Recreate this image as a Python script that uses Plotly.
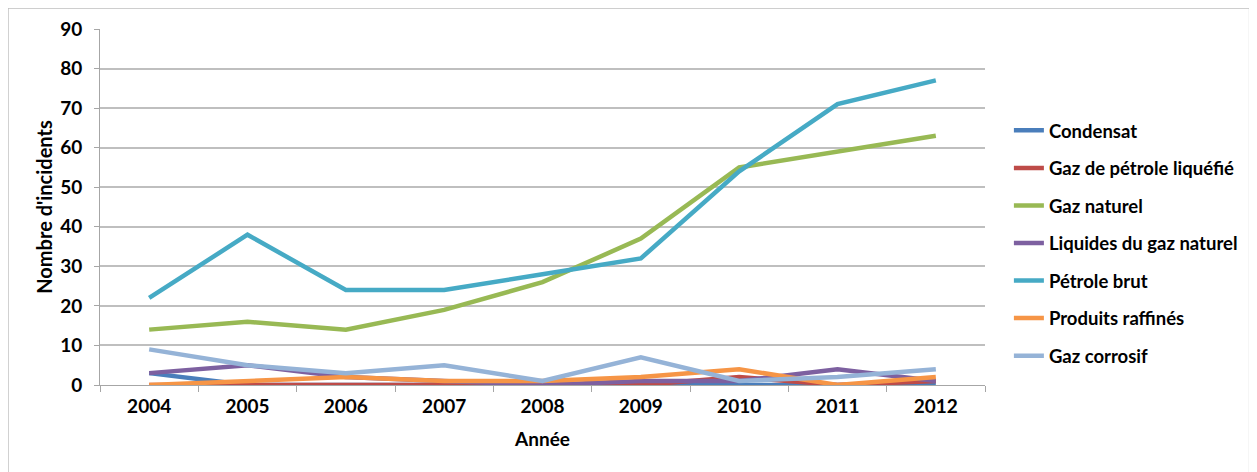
import plotly.graph_objects as go

# Data
years = ['2004', '2005', '2006', '2007', '2008', '2009', '2010', '2011', '2012']

condensat = [3, 0, 0, 0, 0, 0, 0, 0, 0]
gaz_petrole_liquefie = [0, 0, 0, 0, 0, 0, 2, 0, 1]
gaz_naturel = [14, 16, 14, 19, 26, 37, 55, 59, 63]
liquides_gaz_naturel = [3, 5, 2, 1, 0, 1, 1, 4, 1]
petrole_brut = [22, 38, 24, 24, 28, 32, 54, 71, 77]
produits_raffines = [0, 1, 2, 1, 1, 2, 4, 0, 2]
gaz_corrosif = [9, 5, 3, 5, 1, 7, 1, 2, 4]

series = [
    ('Condensat', condensat, '#4A7EBB'),
    ('Gaz de pétrole liquéfié', gaz_petrole_liquefie, '#BE4B48'),
    ('Gaz naturel', gaz_naturel, '#98B954'),
    ('Liquides du gaz naturel', liquides_gaz_naturel, '#7D60A0'),
    ('Pétrole brut', petrole_brut, '#46AAC5'),
    ('Produits raffinés', produits_raffines, '#F69546'),
    ('Gaz corrosif', gaz_corrosif, '#95B3D7'),
]

font_family = 'Lato, Open Sans, sans-serif'
tick_font = dict(family=font_family, size=19, color='black', weight='bold')
title_font = dict(family=font_family, size=19, color='black', weight='bold')
legend_font = dict(family=font_family, size=18.5, color='black', weight='bold')

fig = go.Figure()
for i, (name, values, color) in enumerate(series):
    fig.add_trace(go.Scatter(
        x=years,
        y=values,
        name=name,
        mode='lines',
        legendgroup=f'g{i}',
        line=dict(color=color, width=4.5),
    ))

# the page body has an 8px margin, so the plot area is shifted by 8px
fig.update_layout(
    width=1257,
    height=472,
    margin=dict(l=92, r=280, t=21, b=95, autoexpand=False),
    paper_bgcolor='white',
    plot_bgcolor='white',
    font=tick_font,
    showlegend=True,
    legend=dict(
        x=1.027,
        y=0.398,
        xanchor='left',
        yanchor='middle',
        tracegroupgap=10.5,
        bgcolor='rgba(0,0,0,0)',
        font=legend_font,
        itemwidth=30,
    ),
    xaxis=dict(
        type='category',
        range=[-0.5, 8.5],
        tickson='boundaries',
        ticks='outside',
        ticklen=6,
        tickcolor='#A6A6A6',
        showline=True,
        linecolor='#A6A6A6',
        linewidth=1,
        showgrid=False,
        tickfont=tick_font,
        ticklabelstandoff=4,
        title=dict(text='Année', font=title_font, standoff=16),
    ),
    yaxis=dict(
        range=[0, 90],
        dtick=10,
        ticks='outside',
        ticklen=5,
        tickcolor='#A6A6A6',
        showline=True,
        linecolor='#A6A6A6',
        linewidth=1,
        showgrid=True,
        gridcolor='#BFBFBF',
        gridwidth=1.5,
        zeroline=False,
        tickfont=tick_font,
        ticklabelstandoff=8,
        title=dict(text="Nombre d'incidents", font=dict(title_font, size=20), standoff=2),
    ),
    shapes=[dict(
        type='rect', xref='paper', yref='paper',
        x0=-0.104, x1=1.299, y0=-0.3, y1=1.059,
        line=dict(color='#BFBFBF', width=1.5),
        layer='below',
    )],
)

fig.write_html("out.html")
